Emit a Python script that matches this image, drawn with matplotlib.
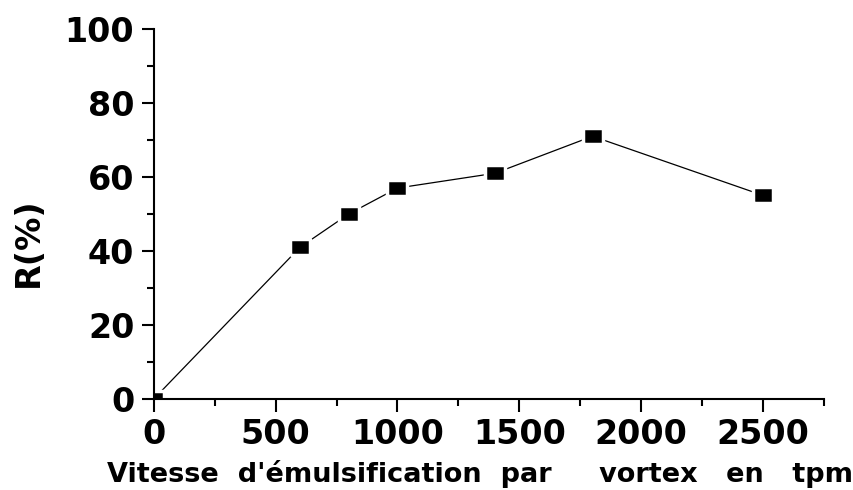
import numpy as np
import matplotlib.pyplot as plt
from matplotlib.ticker import MultipleLocator

# data
vitesse = [0, 600, 800, 1000, 1400, 1800, 2500]
rendement = [0, 41, 50, 57, 61, 71, 55]

plt.rcParams['font.family'] = ['DejaVu Sans']
plt.rcParams['font.weight'] = 'bold'

fig = plt.figure(figsize=(8.54, 4.9), dpi=100)
ax = fig.add_axes([0.180, 0.1857, 0.785, 0.7553])

# rectangle marker, wider than tall
rect = [(-1, -0.75), (1, -0.75), (1, 0.75), (-1, 0.75), (-1, -0.75)]
ax.plot(vitesse, rendement, color='black', linewidth=0.9,
        marker=rect, markersize=15, markerfacecolor='black',
        markeredgecolor='white', markeredgewidth=2.5)

ax.set_xlim(0, 2750)
ax.set_ylim(0, 100)
ax.xaxis.set_major_locator(MultipleLocator(500))
ax.xaxis.set_minor_locator(MultipleLocator(250))
ax.yaxis.set_major_locator(MultipleLocator(20))
ax.yaxis.set_minor_locator(MultipleLocator(10))

ax.spines['top'].set_visible(False)
ax.spines['right'].set_visible(False)
for s in ['left', 'bottom']:
    ax.spines[s].set_linewidth(1.5)

ax.tick_params(which='major', direction='out', length=9, width=1.5,
               labelsize=24, pad=5)
ax.tick_params(which='minor', direction='out', length=5, width=1.5)
for lab in ax.get_xticklabels() + ax.get_yticklabels():
    lab.set_fontweight('bold')

ax.set_xlabel("Vitesse  d'émulsification  par     vortex   en   tpm",
              fontsize=19.5, fontweight='bold')
ax.xaxis.set_label_coords(0.486, -0.165)
ax.set_ylabel('R(%)', fontsize=24, fontweight='bold')
ax.yaxis.set_label_coords(-0.163, 0.424)

fig.savefig('out.png', dpi=100)
